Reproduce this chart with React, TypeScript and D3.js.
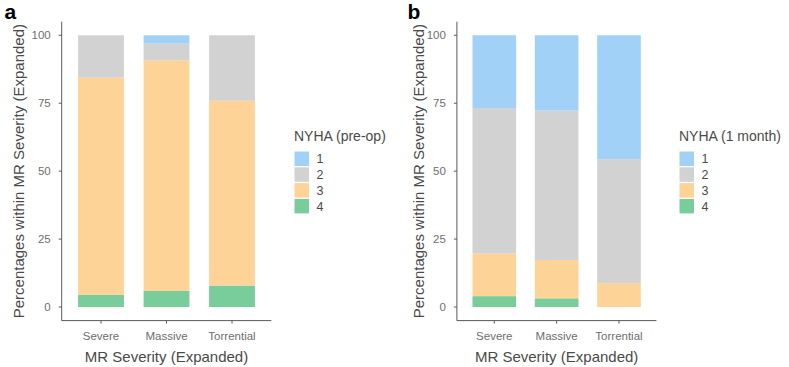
import React, { useEffect, useRef } from "react";
import * as d3 from "d3";

// MR severity groups on the x axis
const categories = ["Severe", "Massive", "Torrential"];
const nyhaLevels = ["1", "2", "3", "4"];
const yTicks = [0, 25, 50, 75, 100];

// panel a: NYHA class before the operation (% within group)
const preOpClass1 = [0, 3.1, 0];
const preOpClass2 = [15.6, 6.1, 24.1];
const preOpClass3 = [79.9, 84.9, 68.0];
const preOpClass4 = [4.5, 5.9, 7.9];

// panel b: NYHA class at one month
const monthClass1 = [26.8, 27.7, 45.6];
const monthClass2 = [53.5, 55.0, 45.6];
const monthClass3 = [15.7, 14.1, 8.8];
const monthClass4 = [4.0, 3.2, 0];

const colors = {
  "1": "#a1d1f6",
  "2": "#d2d2d2",
  "3": "#fed398",
  "4": "#78cd9b",
};

const buildRows = (c1, c2, c3, c4) =>
  categories.map((cat, i) => ({ cat, "1": c1[i], "2": c2[i], "3": c3[i], "4": c4[i] }));

const FONT = "'Liberation Sans', Arial, sans-serif";

const Panel = ({ svgRef, rows, label, legendTitle, ox, left, right, legendX }) => {
  useEffect(() => {
    const g = d3.select(svgRef.current).append("g").attr("class", "panel-" + label);
    const top = 21.7;
    const bottom = 320.6;

    const x = d3.scaleBand().domain(categories).range([left, right]).paddingInner(0.3).paddingOuter(0.25);
    // 5% expansion like ggplot
    const y = d3.scaleLinear().domain([-5, 105]).range([bottom, top]);

    // stacked bars, class 4 at the bottom
    const stack = d3.stack().keys(["4", "3", "2", "1"]);
    const series = stack(rows);

    series.forEach((s) => {
      g.selectAll(null)
        .data(s)
        .enter()
        .append("rect")
        .attr("x", (d) => x(d.data.cat))
        .attr("width", x.bandwidth())
        .attr("y", (d) => y(d[1]))
        .attr("height", (d) => Math.max(0, y(d[0]) - y(d[1])))
        .attr("fill", colors[s.key]);
    });

    // axes
    const axisColor = "#5a5a5a";
    g.append("line")
      .attr("x1", left).attr("x2", left)
      .attr("y1", top).attr("y2", bottom)
      .attr("stroke", axisColor).attr("stroke-width", 1);
    g.append("line")
      .attr("x1", left).attr("x2", right)
      .attr("y1", bottom).attr("y2", bottom)
      .attr("stroke", axisColor).attr("stroke-width", 1);

    yTicks.forEach((t) => {
      g.append("line")
        .attr("x1", left - 3).attr("x2", left)
        .attr("y1", y(t)).attr("y2", y(t))
        .attr("stroke", axisColor);
      g.append("text")
        .attr("x", left - 11)
        .attr("y", y(t))
        .attr("dy", "0.35em")
        .attr("text-anchor", "end")
        .attr("font-family", FONT)
        .attr("font-size", 11.5)
        .attr("fill", "#6e6e6e")
        .text(t);
    });

    categories.forEach((c) => {
      const cx = x(c) + x.bandwidth() / 2;
      g.append("line")
        .attr("x1", cx).attr("x2", cx)
        .attr("y1", bottom).attr("y2", bottom + 3)
        .attr("stroke", axisColor);
      g.append("text")
        .attr("x", cx)
        .attr("y", 339.5)
        .attr("text-anchor", "middle")
        .attr("font-family", FONT)
        .attr("font-size", 11.5)
        .attr("fill", "#6e6e6e")
        .text(c);
    });

    // axis titles
    g.append("text")
      .attr("x", (left + right) / 2)
      .attr("y", 362)
      .attr("text-anchor", "middle")
      .attr("font-family", FONT)
      .attr("font-size", 15)
      .attr("fill", "#4a4a4a")
      .text("MR Severity (Expanded)");

    g.append("text")
      .attr("transform", `translate(${ox + 24},${(top + bottom) / 2}) rotate(-90)`)
      .attr("text-anchor", "middle")
      .attr("font-family", FONT)
      .attr("font-size", 15)
      .attr("fill", "#4a4a4a")
      .text("Percentages within MR Severity (Expanded)");

    // panel letter
    g.append("text")
      .attr("x", ox + (label === "a" ? 4.5 : 7.5))
      .attr("y", 19)
      .attr("font-family", FONT)
      .attr("font-size", 21)
      .attr("font-weight", "bold")
      .attr("fill", "#000")
      .text(label);

    // legend
    g.append("text")
      .attr("x", legendX)
      .attr("y", 141)
      .attr("font-family", FONT)
      .attr("font-size", 14)
      .attr("fill", "#4a4a4a")
      .text(legendTitle);

    nyhaLevels.forEach((lv, i) => {
      const ky = 151.5 + i * 15.8;
      g.append("rect")
        .attr("x", legendX + 0.5)
        .attr("y", ky)
        .attr("width", 14.5)
        .attr("height", 14.5)
        .attr("fill", colors[lv]);
      g.append("text")
        .attr("x", legendX + 22.5)
        .attr("y", ky + 7.3)
        .attr("dy", "0.35em")
        .attr("font-family", FONT)
        .attr("font-size", 12.5)
        .attr("fill", "#4a4a4a")
        .text(lv);
    });

    return () => {
      g.remove();
    };
  }, [svgRef, rows, label, legendTitle, ox, left, right, legendX]);

  return null;
};

const preOpRows = buildRows(preOpClass1, preOpClass2, preOpClass3, preOpClass4);
const monthRows = buildRows(monthClass1, monthClass2, monthClass3, monthClass4);

export default function App() {
  const svgRef = useRef(null);
  return (
    <div style={{ position: "absolute", left: 0, top: 0 }}>
      <svg ref={svgRef} width={789} height={367} style={{ display: "block", background: "#fff" }} />
      <Panel svgRef={svgRef} rows={preOpRows} label="a" legendTitle="NYHA (pre-op)" ox={0} left={61.7} right={271.3} legendX={294} />
      <Panel svgRef={svgRef} rows={monthRows} label="b" legendTitle="NYHA (1 month)" ox={400} left={456.9} right={656.4} legendX={679} />
    </div>
  );
}
